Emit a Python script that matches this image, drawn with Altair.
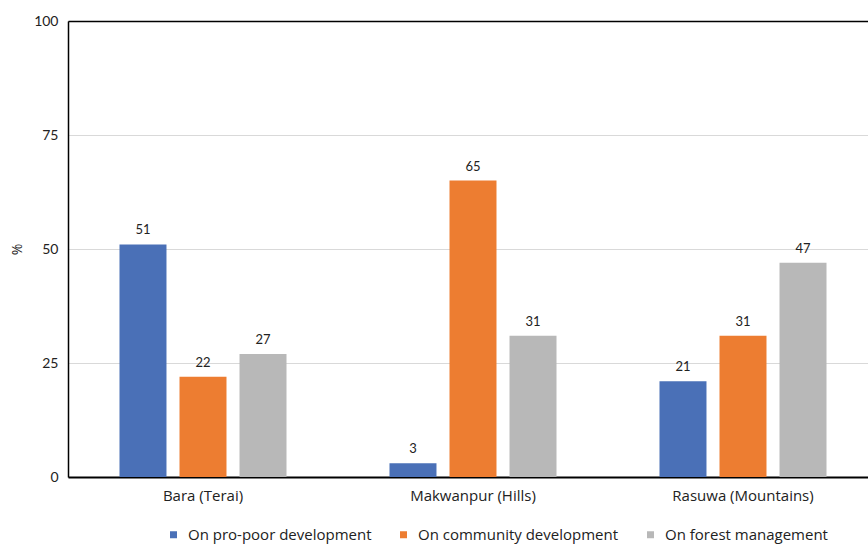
import altair as alt
import pandas as pd

# Share of respondents (%) by district and type of benefit
districts = ["Bara (Terai)", "Makwanpur (Hills)", "Rasuwa (Mountains)"]
series = ["On pro-poor development", "On community development", "On forest management"]
pro_poor = [51, 3, 21]
community = [22, 65, 31]
forest = [27, 31, 47]
colors = ["#4A70B7", "#ED7D31", "#B8B8B8"]
y_ticks = [0, 25, 50, 75, 100]

rows = []
for i, d in enumerate(districts):
    for s, vals in zip(series, [pro_poor, community, forest]):
        rows.append({"district": d, "series": s, "value": vals[i]})
df = pd.DataFrame(rows)

NUM_FONT = "Lato"
TXT_FONT = "Open Sans"
INK = "#222222"

x_enc = alt.X(
    "district:N",
    sort=districts,
    title=None,
    scale=alt.Scale(range=[0, 810], paddingInner=0, paddingOuter=0),
    axis=alt.Axis(
        labelAngle=0,
        ticks=False,
        domainColor="black",
        domainWidth=2,
        labelFontSize=15,
        labelColor=INK,
        labelPadding=11,
        labelFont=TXT_FONT,
    ),
)
xoff_enc = alt.XOffset(
    "series:N",
    sort=series,
    scale=alt.Scale(paddingInner=0.217, paddingOuter=0.858),
)
y_enc = alt.Y(
    "value:Q",
    scale=alt.Scale(domain=[0, 100], nice=False),
    axis=alt.Axis(
        values=y_ticks,
        title="%",
        titleAngle=-90,
        titleX=-44,
        titleY=228,
        titleFontSize=14,
        titleFontWeight="normal",
        titleFont=TXT_FONT,
        titleColor=INK,
        ticks=False,
        domainColor="black",
        domainWidth=1.5,
        labelFontSize=14,
        labelFont=NUM_FONT,
        labelColor=INK,
        labelPadding=10,
        grid=True,
        gridColor={"condition": {"test": "datum.value == 100", "value": "black"}, "value": "#D9D9D9"},
        gridWidth={"condition": {"test": "datum.value == 100", "value": 1.5}, "value": 1},
    ),
)

bars = alt.Chart(df).mark_bar().encode(
    x=x_enc,
    xOffset=xoff_enc,
    y=y_enc,
    color=alt.Color(
        "series:N",
        sort=series,
        scale=alt.Scale(domain=series, range=colors),
        legend=alt.Legend(
            title=None,
            orient="none",
            direction="horizontal",
            legendX=98,
            legendY=506,
            symbolType="square",
            symbolSize=49,
            symbolStrokeWidth=0,
            labelFontSize=15,
            labelFont=TXT_FONT,
            labelColor=INK,
            labelOffset=7,
            labelLimit=400,
            columnPadding=24,
        ),
    ),
)

labels = alt.Chart(df).mark_text(
    baseline="alphabetic", dy=-10, fontSize=13, font=NUM_FONT, color=INK
).encode(
    x=alt.X("district:N", sort=districts),
    xOffset=alt.XOffset("series:N", sort=series),
    y="value:Q",
    text=alt.Text("value:Q", format="d"),
)

chart = (
    alt.layer(bars, labels)
    .properties(
        width=800,
        height=456,
        autosize=alt.AutoSizeParams(type="none"),
        padding={"left": 68, "top": 21, "right": 0, "bottom": 68},
    )
    .configure_view(stroke=None)
    .configure(background="white")
)

chart.save("out.html", embed_options={"renderer": "svg", "actions": False})
